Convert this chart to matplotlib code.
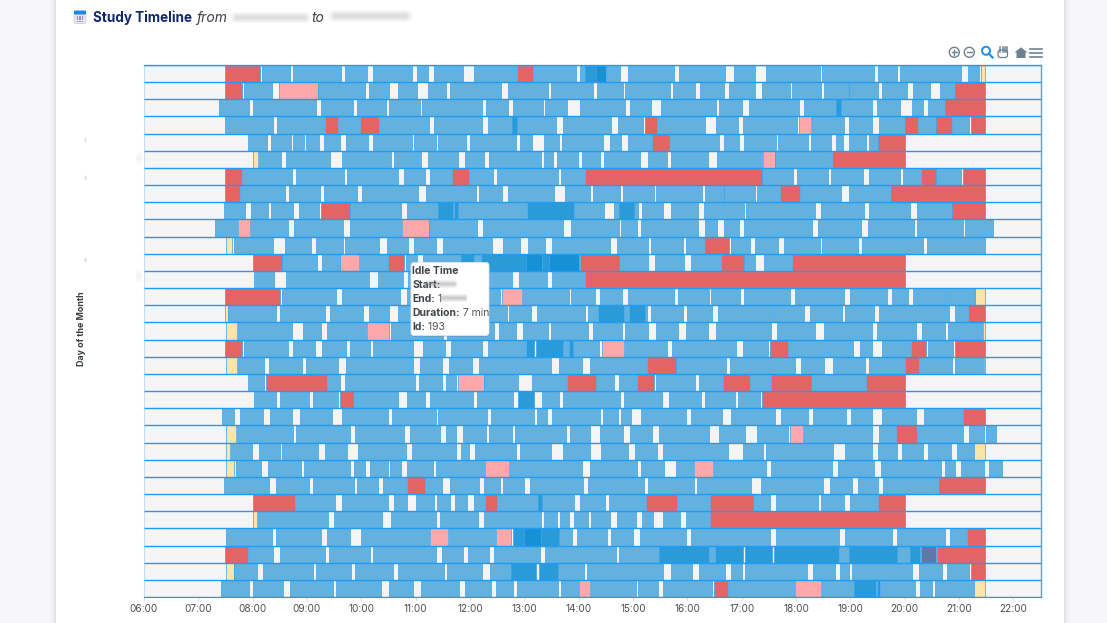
#!/usr/bin/env python3
"""Study timeline: one row per day of the month, sessions and idle periods by clock time."""

import matplotlib

matplotlib.use("Agg")

import matplotlib.pyplot as plt
import numpy as np
from matplotlib.patches import Circle, FancyBboxPatch, Polygon, Rectangle

W, H = 1107, 623

# Segments are (start, end, kind), in minutes after 06:00.
# b study, d/e overlapping study, r idle, p short idle, y late start, s other
DAY_01 = [(90, 128, "r"), (130, 161, "b"), (165, 218, "b"), (222, 246, "b"), (253, 296, "b"), (302, 314, "b"),
          (320, 352, "b"), (364, 411, "b"), (412, 430, "r"), (431, 477, "b"), (482, 487, "b"), (487, 499, "d"),
          (499, 510, "e"), (511, 526, "b"), (534, 585, "b"), (591, 642, "b"), (651, 675, "b"), (687, 746, "b"),
          (749, 806, "b"), (811, 831, "b"), (835, 902, "b"), (910, 922, "b"), (924, 929, "y")]
DAY_02 = [(90, 108, "r"), (110, 141, "b"), (149, 192, "p"), (192, 244, "b"), (248, 271, "b"), (280, 302, "b"),
          (314, 333, "b"), (338, 394, "b"), (402, 446, "b"), (450, 496, "b"), (500, 529, "b"), (531, 581, "b"),
          (584, 608, "b"), (614, 640, "b"), (646, 675, "b"), (682, 713, "b"), (716, 747, "b"), (751, 779, "b"),
          (779, 811, "b"), (815, 843, "b"), (849, 868, "b"), (879, 895, "b"), (895, 929, "r")]
DAY_03 = [(83, 116, "b"), (121, 190, "b"), (195, 231, "b"), (235, 267, "b"), (271, 305, "b"), (307, 373, "b"),
          (378, 402, "b"), (408, 441, "b"), (443, 467, "b"), (481, 531, "b"), (537, 560, "b"), (571, 632, "b"),
          (635, 660, "b"), (668, 723, "b"), (729, 764, "b"), (764, 770, "d"), (770, 804, "b"), (809, 835, "b"),
          (848, 860, "b"), (866, 885, "b"), (885, 929, "r")]
DAY_04 = [(89, 142, "b"), (147, 199, "b"), (200, 214, "r"), (215, 238, "b"), (239, 260, "r"), (261, 315, "b"),
          (320, 373, "b"), (380, 406, "b"), (406, 412, "d"), (412, 455, "b"), (463, 516, "b"), (523, 551, "b"),
          (553, 567, "r"), (568, 620, "b"), (632, 656, "b"), (661, 721, "b"), (723, 737, "p"), (738, 773, "b"),
          (778, 804, "b"), (812, 840, "b"), (840, 855, "r"), (856, 874, "b"), (875, 892, "r"), (893, 911, "b"),
          (913, 929, "r")]
DAY_05 = [(115, 136, "b"), (140, 162, "b"), (165, 177, "b"), (179, 193, "b"), (199, 217, "b"), (223, 247, "b"),
          (253, 296, "b"), (298, 322, "b"), (325, 356, "b"), (360, 411, "b"), (415, 428, "b"), (442, 458, "b"),
          (462, 507, "b"), (515, 527, "b"), (534, 560, "b"), (561, 580, "r"), (580, 635, "b"), (640, 657, "b"),
          (663, 698, "b"), (700, 733, "b"), (737, 759, "b"), (764, 772, "b"), (778, 797, "b"), (800, 810, "b"),
          (810, 840, "r")]
DAY_06 = [(121, 126, "y"), (127, 151, "b"), (157, 205, "b"), (219, 273, "b"), (276, 306, "b"), (314, 347, "b"),
          (354, 375, "b"), (381, 438, "b"), (442, 452, "b"), (456, 479, "b"), (484, 504, "b"), (508, 548, "b"),
          (556, 577, "b"), (582, 623, "b"), (633, 682, "b"), (683, 697, "p"), (697, 759, "b"), (760, 840, "r")]
DAY_07 = [(90, 108, "r"), (109, 164, "b"), (168, 221, "b"), (224, 280, "b"), (287, 310, "b"), (316, 339, "b"),
          (340, 359, "r"), (360, 385, "b"), (390, 457, "b"), (460, 486, "b"), (487, 682, "r"), (682, 717, "b"),
          (721, 755, "b"), (759, 794, "b"), (800, 835, "b"), (838, 857, "b"), (858, 874, "r"), (875, 902, "b"),
          (904, 929, "r")]
DAY_08 = [(90, 106, "r"), (107, 156, "b"), (160, 194, "b"), (199, 235, "b"), (241, 303, "b"), (312, 367, "b"),
          (370, 395, "b"), (402, 453, "b"), (465, 493, "b"), (496, 526, "b"), (529, 563, "b"), (565, 616, "b"),
          (619, 641, "b"), (641, 675, "b"), (677, 701, "b"), (702, 724, "r"), (725, 770, "b"), (778, 825, "b"),
          (825, 929, "r")]
DAY_09 = [(88, 112, "b"), (118, 137, "b"), (140, 165, "b"), (171, 193, "b"), (195, 227, "r"), (228, 284, "b"),
          (290, 325, "b"), (325, 341, "d"), (342, 347, "d"), (347, 422, "b"), (423, 475, "d"), (476, 508, "b"),
          (519, 525, "b"), (525, 541, "d"), (541, 546, "b"), (550, 573, "b"), (582, 612, "b"), (618, 662, "b"),
          (665, 741, "b"), (748, 795, "b"), (801, 846, "b"), (853, 892, "b"), (892, 929, "r")]
DAY_10 = [(79, 103, "b"), (104, 117, "p"), (118, 159, "b"), (166, 220, "b"), (227, 284, "b"), (285, 315, "p"),
          (315, 368, "b"), (374, 463, "b"), (472, 524, "b"), (527, 544, "b"), (549, 612, "b"), (619, 633, "b"),
          (640, 657, "b"), (662, 738, "b"), (744, 792, "b"), (799, 850, "b"), (854, 904, "b"), (906, 937, "b")]
DAY_11 = [(91, 97, "y"), (99, 143, "b"), (156, 184, "b"), (190, 220, "b"), (222, 260, "b"), (268, 292, "b"),
          (298, 322, "b"), (330, 384, "b"), (396, 415, "b"), (424, 443, "b"), (451, 515, "b"), (522, 557, "b"),
          (560, 595, "b"), (598, 619, "b"), (620, 646, "r"), (648, 669, "b"), (675, 700, "b"), (707, 746, "b"),
          (749, 788, "b"), (793, 860, "b"), (865, 929, "b")]
DAY_12 = [(121, 152, "r"), (153, 191, "b"), (197, 216, "b"), (217, 238, "p"), (239, 268, "b"), (269, 287, "r"),
          (289, 302, "b"), (308, 350, "b"), (350, 364, "d"), (365, 371, "b"), (372, 422, "d"), (422, 439, "e"),
          (439, 447, "d"), (447, 480, "e"), (481, 524, "r"), (524, 557, "b"), (564, 596, "b"), (604, 636, "b"),
          (637, 662, "r"), (662, 675, "b"), (685, 714, "b"), (715, 840, "r")]
DAY_13 = [(122, 144, "b"), (157, 249, "b"), (258, 286, "b"), (292, 340, "b"), (345, 406, "b"), (414, 445, "b"),
          (451, 486, "b"), (487, 840, "r")]
DAY_14 = [(90, 150, "r"), (152, 212, "b"), (219, 283, "b"), (290, 340, "b"), (345, 393, "b"), (395, 417, "p"),
          (418, 469, "b"), (472, 498, "b"), (504, 528, "b"), (535, 585, "b"), (590, 624, "b"), (626, 658, "b"),
          (662, 713, "b"), (719, 773, "b"), (780, 820, "b"), (826, 844, "b"), (849, 884, "b"), (886, 918, "b"),
          (918, 929, "y")]
DAY_15 = [(90, 93, "y"), (93, 146, "b"), (150, 200, "b"), (205, 242, "b"), (249, 271, "b"), (280, 330, "b"),
          (335, 381, "b"), (381, 401, "b"), (403, 427, "b"), (434, 487, "b"), (490, 500, "b"), (501, 530, "d"),
          (531, 535, "b"), (536, 553, "d"), (553, 555, "b"), (560, 595, "b"), (600, 627, "b"), (634, 693, "b"),
          (695, 729, "b"), (735, 771, "b"), (774, 806, "b"), (812, 889, "b"), (895, 909, "b"), (910, 929, "r")]
DAY_16 = [(91, 103, "y"), (104, 163, "b"), (176, 196, "b"), (202, 245, "b"), (246, 271, "p"), (273, 330, "b"),
          (335, 386, "b"), (392, 411, "b"), (418, 446, "b"), (450, 490, "b"), (496, 528, "b"), (531, 556, "b"),
          (565, 590, "b"), (598, 623, "b"), (632, 692, "b"), (699, 741, "b"), (751, 804, "b"), (809, 852, "b"),
          (859, 885, "b"), (888, 925, "b"), (926, 929, "y")]
DAY_17 = [(90, 108, "r"), (110, 159, "b"), (165, 189, "b"), (197, 223, "b"), (227, 250, "b"), (253, 297, "b"),
          (308, 332, "b"), (339, 373, "b"), (380, 421, "b"), (422, 431, "d"), (433, 463, "d"), (464, 468, "b"),
          (469, 474, "d"), (474, 502, "b"), (506, 530, "p"), (531, 578, "b"), (583, 654, "b"), (661, 689, "b"),
          (691, 711, "r"), (712, 783, "b"), (791, 804, "b"), (815, 846, "b"), (847, 864, "r"), (866, 893, "b"),
          (895, 929, "r")]
DAY_18 = [(91, 103, "y"), (104, 133, "b"), (138, 175, "b"), (179, 214, "b"), (223, 297, "b"), (305, 329, "b"),
          (337, 362, "b"), (370, 450, "b"), (458, 484, "b"), (493, 554, "b"), (555, 587, "r"), (588, 643, "b"),
          (647, 719, "b"), (725, 751, "b"), (761, 796, "b"), (800, 839, "b"), (840, 856, "r"), (857, 892, "b"),
          (896, 926, "b"), (927, 929, "y")]
DAY_19 = [(115, 133, "b"), (135, 202, "r"), (203, 217, "b"), (222, 299, "b"), (304, 329, "b"), (334, 345, "b"),
          (347, 375, "p"), (376, 413, "b"), (428, 466, "b"), (467, 499, "r"), (500, 519, "b"), (525, 543, "b"),
          (544, 563, "r"), (565, 608, "b"), (613, 638, "b"), (639, 669, "r"), (670, 691, "b"), (692, 736, "r"),
          (737, 796, "b"), (797, 840, "r")]
DAY_20 = [(122, 146, "b"), (150, 182, "b"), (187, 214, "b"), (216, 231, "r"), (231, 281, "b"), (290, 310, "b"),
          (316, 363, "b"), (368, 408, "b"), (413, 431, "d"), (439, 458, "b"), (463, 526, "b"), (530, 572, "b"),
          (580, 615, "b"), (619, 653, "b"), (656, 680, "b"), (682, 840, "r")]
DAY_21 = [(86, 100, "b"), (106, 132, "b"), (139, 164, "b"), (172, 208, "b"), (219, 270, "b"), (274, 322, "b"),
          (325, 379, "b"), (383, 431, "b"), (434, 445, "b"), (451, 504, "b"), (507, 523, "b"), (527, 538, "b"),
          (549, 599, "b"), (604, 638, "b"), (648, 697, "b"), (703, 733, "b"), (739, 775, "b"), (781, 804, "b"),
          (815, 852, "b"), (861, 903, "b"), (904, 929, "r")]
DAY_22 = [(91, 102, "y"), (103, 165, "b"), (168, 228, "b"), (233, 287, "b"), (294, 327, "b"), (333, 345, "b"),
          (352, 378, "b"), (381, 406, "b"), (410, 466, "b"), (470, 492, "b"), (504, 529, "b"), (537, 561, "b"),
          (569, 624, "b"), (635, 664, "b"), (677, 711, "b"), (713, 728, "p"), (729, 804, "b"), (812, 829, "b"),
          (830, 854, "r"), (855, 904, "b"), (911, 928, "b"), (930, 941, "b")]
DAY_23 = [(91, 95, "y"), (96, 119, "b"), (127, 150, "b"), (153, 192, "b"), (200, 224, "b"), (236, 289, "b"),
          (296, 345, "b"), (350, 359, "b"), (366, 411, "b"), (415, 449, "b"), (463, 492, "b"), (505, 534, "b"),
          (542, 566, "b"), (573, 645, "b"), (661, 684, "b"), (687, 761, "b"), (774, 804, "b"), (810, 832, "b"),
          (837, 860, "b"), (866, 891, "b"), (898, 916, "b"), (917, 929, "y")]
DAY_24 = [(91, 100, "y"), (102, 129, "b"), (137, 173, "b"), (177, 227, "b"), (232, 244, "b"), (250, 270, "b"),
          (272, 284, "b"), (291, 319, "b"), (323, 376, "b"), (377, 403, "p"), (404, 484, "b"), (492, 544, "b"),
          (549, 574, "b"), (587, 606, "b"), (607, 628, "p"), (629, 687, "b"), (692, 760, "b"), (766, 806, "b"),
          (814, 880, "b"), (884, 896, "b"), (902, 928, "b"), (933, 947, "b")]
DAY_25 = [(88, 138, "b"), (146, 182, "b"), (187, 232, "b"), (235, 258, "b"), (264, 289, "b"), (290, 310, "r"),
          (312, 329, "b"), (338, 370, "b"), (375, 393, "b"), (397, 420, "b"), (426, 485, "b"), (490, 552, "b"),
          (556, 607, "b"), (611, 670, "b"), (681, 750, "b"), (757, 782, "b"), (788, 811, "b"), (816, 878, "b"),
          (878, 929, "r")]
DAY_26 = [(121, 167, "r"), (168, 211, "b"), (219, 270, "b"), (276, 291, "b"), (300, 320, "b"), (324, 338, "b"),
          (344, 357, "b"), (364, 376, "b"), (377, 390, "r"), (391, 435, "b"), (435, 439, "d"), (439, 475, "b"),
          (482, 509, "b"), (514, 553, "b"), (554, 589, "r"), (590, 624, "b"), (625, 672, "r"), (673, 691, "b"),
          (698, 744, "b"), (748, 773, "b"), (780, 809, "b"), (810, 840, "r")]
DAY_27 = [(121, 125, "y"), (126, 203, "b"), (210, 263, "b"), (273, 323, "b"), (327, 369, "b"), (376, 438, "b"),
          (442, 456, "b"), (459, 469, "b"), (475, 490, "b"), (494, 515, "b"), (522, 543, "b"), (550, 562, "b"),
          (573, 592, "b"), (598, 624, "b"), (625, 840, "r")]
DAY_28 = [(91, 141, "b"), (146, 196, "b"), (202, 227, "b"), (240, 315, "b"), (316, 336, "p"), (337, 388, "b"),
          (389, 405, "p"), (407, 420, "d"), (420, 438, "e"), (438, 458, "d"), (458, 473, "b"), (478, 511, "b"),
          (516, 540, "b"), (548, 599, "b"), (604, 691, "b"), (698, 767, "b"), (774, 826, "b"), (831, 885, "b"),
          (890, 908, "b"), (909, 929, "r")]
DAY_29 = [(90, 115, "r"), (116, 143, "b"), (150, 200, "b"), (204, 250, "b"), (253, 322, "b"), (329, 352, "b"),
          (358, 381, "b"), (386, 437, "b"), (443, 521, "b"), (525, 569, "b"), (569, 624, "d"), (625, 629, "b"),
          (630, 661, "d"), (664, 693, "d"), (696, 767, "d"), (768, 778, "b"), (778, 832, "d"), (832, 846, "b"),
          (846, 857, "d"), (858, 875, "s"), (876, 929, "r")]
DAY_30 = [(91, 99, "y"), (100, 125, "b"), (131, 187, "b"), (190, 229, "b"), (233, 275, "b"), (281, 331, "b"),
          (335, 373, "b"), (382, 405, "b"), (405, 433, "d"), (436, 457, "d"), (457, 486, "b"), (489, 573, "b"),
          (582, 605, "b"), (613, 642, "b"), (648, 660, "b"), (664, 732, "b"), (739, 763, "b"), (769, 778, "b"),
          (782, 848, "b"), (856, 881, "b"), (887, 911, "b"), (913, 929, "r")]
DAY_31 = [(85, 116, "b"), (120, 154, "b"), (161, 209, "b"), (212, 262, "b"), (271, 297, "b"), (306, 348, "b"),
          (354, 383, "b"), (389, 407, "b"), (412, 457, "b"), (461, 479, "b"), (480, 493, "p"), (494, 543, "b"),
          (546, 568, "b"), (573, 627, "b"), (629, 645, "r"), (646, 718, "b"), (719, 748, "p"), (749, 784, "b"),
          (784, 808, "d"), (809, 813, "d"), (814, 851, "b"), (857, 870, "b"), (873, 917, "b"), (917, 929, "y")]

DAYS = [DAY_01, DAY_02, DAY_03, DAY_04, DAY_05, DAY_06, DAY_07, DAY_08, DAY_09, DAY_10, DAY_11,
        DAY_12, DAY_13, DAY_14, DAY_15, DAY_16, DAY_17, DAY_18, DAY_19, DAY_20, DAY_21, DAY_22,
        DAY_23, DAY_24, DAY_25, DAY_26, DAY_27, DAY_28, DAY_29, DAY_30, DAY_31]

HOUR_LABELS = ["06:00", "07:00", "08:00", "09:00", "10:00", "11:00", "12:00", "13:00", "14:00",
               "15:00", "16:00", "17:00", "18:00", "19:00", "20:00", "21:00", "22:00"]

TOOLTIP_LINES = [("Idle Time", ""), ("Start:", ""), ("End:", " 1"), ("Duration:", " 7 min"), ("Id:", " 193")]

KIND_COLOURS = {
    "b": "#63b1df", "d": "#2b9ad9", "e": "#1691d6",
    "r": "#e46364", "p": "#fda9ab", "y": "#fde4a9", "s": "#5f78a5",
}
EDGE = "#1f9cf6"
INK = "#373d3f"
NAVY = "#10276f"

plt.rcParams["font.family"] = ["Inter", "Noto Sans", "DejaVu Sans"]

fig = plt.figure(figsize=(W / 100, H / 100), dpi=100, facecolor="#f7f7fa")


def px_axes(x0, y0, x1, y1, **kwargs):
    """Axes placed by pixel box, y measured from the top of the figure."""
    return fig.add_axes([x0 / W, 1 - y1 / H, (x1 - x0) / W, (y1 - y0) / H], **kwargs)


# page card behind everything, plus a soft shadow
page = px_axes(0, 0, W, H, zorder=0)
page.set_xlim(0, W)
page.set_ylim(H, 0)
page.axis("off")
for grow, alpha in [(6, 0.012), (4, 0.018), (2, 0.025), (1, 0.03)]:
    page.add_patch(Rectangle((56 - grow, -10), 1008 + 2 * grow, H + 20, color="black", alpha=alpha, lw=0))
page.add_patch(Rectangle((56, -10), 1008, H + 20, color="white", lw=0))

# timeline
ax = px_axes(143.9, 65, 1040.6, 597, zorder=1)
ax.set_xlim(0, 990)
ax.set_ylim(len(DAYS), 0)
ax.barh(np.arange(len(DAYS)) + 0.5, 990, height=1, color="#f5f5f5", linewidth=0)
for row, segments in enumerate(DAYS):
    starts = [s[0] for s in segments]
    widths = [s[1] - s[0] for s in segments]
    colours = [KIND_COLOURS[s[2]] for s in segments]
    ax.barh(row + 0.5, widths, left=starts, height=1, color=colours, edgecolor="#3aa2ec", linewidth=0.5)
ax.hlines(np.arange(len(DAYS) + 1), 0, 990, color=EDGE, linewidth=1.0, zorder=3)

ax.set_xticks(np.arange(len(HOUR_LABELS)) * 60)
ax.set_xticklabels(HOUR_LABELS, fontsize=7.2, color="#4a4f52")
ax.tick_params(axis="x", length=3, width=0.8, color="#e0e0e0", pad=2)
ax.set_yticks([])
for side in ("top", "right"):
    ax.spines[side].set_color("#3fa9f8")
    ax.spines[side].set_linewidth(1.0)
ax.spines["left"].set_color("#c4dff5")
ax.spines["bottom"].set_color(EDGE)

# overlay in pixel coordinates for header, toolbar and tooltip
top = px_axes(0, 0, W, H, zorder=2)
top.set_xlim(0, W)
top.set_ylim(H, 0)
top.axis("off")
top.patch.set_alpha(0)


def smear(x0, x1, yc, height, peak=0.3):
    """Soft grey streak where text has been obscured."""
    xs = np.linspace(0, 1, 80)
    ys = np.linspace(-1, 1, 24)
    edge = np.clip(np.minimum(xs, 1 - xs) * 12, 0, 1)
    alpha = np.outer(np.exp(-(ys * 1.3) ** 2), edge) * peak
    rgba = np.zeros((24, 80, 4))
    rgba[..., :3] = 0.55
    rgba[..., 3] = alpha
    top.imshow(rgba, extent=(x0, x1, yc + height / 2, yc - height / 2), aspect="auto", zorder=6,
               interpolation="bilinear")


# calendar icon
top.add_patch(FancyBboxPatch((74, 11.5), 12, 12, boxstyle="round,pad=0,rounding_size=1.5",
                             fc="#e6e2f0", ec="#cfcbe0", lw=0.5))
top.add_patch(FancyBboxPatch((74, 10.5), 12, 4, boxstyle="round,pad=0,rounding_size=1.2", fc="#1d88d8", ec="none"))
for gx in (76.6, 79.2, 81.8):
    for gy in (16.2, 18.4, 20.6):
        top.add_patch(Rectangle((gx, gy), 1.5, 1.3, color="#9c90c8", lw=0))

top.text(93, 22, "Study Timeline", fontsize=9.7, fontweight="bold", color=NAVY, va="baseline", ha="left")
top.text(196.5, 22, "from", fontsize=10, style="italic", color="#3c4048", va="baseline", ha="left")
top.text(311.5, 22, "to", fontsize=10, style="italic", color="#3c4048", va="baseline", ha="left")
smear(229, 312, 17.5, 11)
smear(327, 414, 16, 12)

# toolbar
TOOL = "#6e8192"
for cx, minus in ((954.3, False), (969.3, True)):
    top.add_patch(Circle((cx, 52.3), 5, fc="none", ec=TOOL, lw=1.0))
    top.plot([cx - 2.8, cx + 2.8], [52.3, 52.3], color=TOOL, lw=1.0)
    if not minus:
        top.plot([cx, cx], [49.5, 55.1], color=TOOL, lw=1.0)
top.add_patch(Circle((986, 50.8), 4, fc="none", ec="#1f8fe8", lw=1.4))
top.plot([989, 992.5], [53.8, 57.5], color="#1f8fe8", lw=1.6)
top.add_patch(FancyBboxPatch((998, 50), 9.5, 7.5, boxstyle="round,pad=0,rounding_size=2.5", fc="white", ec=TOOL, lw=0.9))
for fx in (1000.3, 1002.6, 1004.9, 1007.2):
    top.plot([fx, fx], [46.5, 52], color=TOOL, lw=1.1)
top.add_patch(Polygon([(1014.5, 52.5), (1021, 47.3), (1027.5, 52.5), (1025.5, 52.5), (1025.5, 58),
                       (1016.5, 58), (1016.5, 52.5)], fc=TOOL, ec="none"))
for my in (49, 52.8, 56.6):
    top.plot([1030, 1042], [my, my], color=TOOL, lw=1.2)

# tooltip
top.add_patch(FancyBboxPatch((411.5, 263.5), 78, 73, boxstyle="round,pad=0,rounding_size=3",
                             fc="black", ec="none", alpha=0.14, zorder=3))
top.add_patch(FancyBboxPatch((411, 262.5), 78, 73, boxstyle="round,pad=0,rounding_size=3",
                             fc="white", ec="#e3e3e3", lw=0.6, zorder=4))
renderer = fig.canvas.get_renderer()
for i, (head, tail) in enumerate(TOOLTIP_LINES):
    y = 270.5 + i * 14.2
    label = top.text(412.5, y, head, fontsize=7.5, fontweight="bold", color="#3f444a", va="center", ha="left", zorder=5)
    if tail:
        box = label.get_window_extent(renderer)
        top.text(box.x1, y, tail, fontsize=7.5, color="#50555a", va="center", ha="left", zorder=5)
smear(423, 458, 284.5, 8, peak=0.45)
smear(440, 468, 298.5, 8, peak=0.45)

# axis title and the obscured day labels
top.text(82, 329, "Day of the Month", rotation=90, fontsize=6.4, fontweight="bold", color=INK, va="center", ha="center")
for sx, sy, sw, sh, sp in [(84, 140, 3, 6, 0.25), (84, 178, 3, 6, 0.25), (84, 260, 3, 6, 0.3),
                           (136, 158, 6, 14, 0.1), (136, 276, 6, 14, 0.1)]:
    smear(sx, sx + sw, sy, sh, peak=sp)
top.set_xlim(0, W)
top.set_ylim(H, 0)

fig.savefig("out.png", dpi=100, facecolor=fig.get_facecolor())
